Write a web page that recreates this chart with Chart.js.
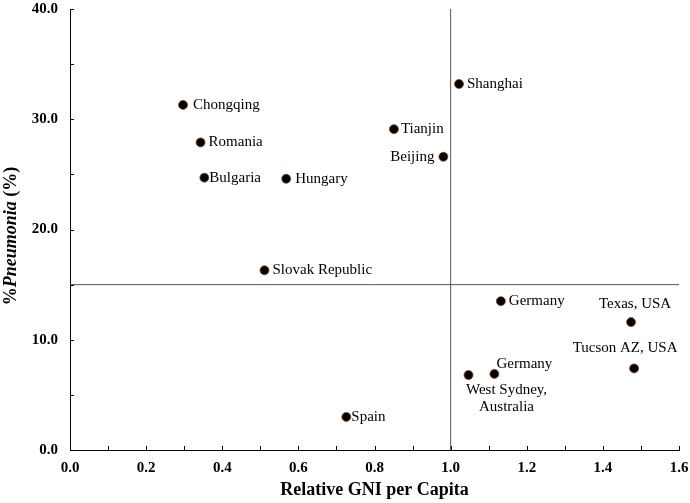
<!DOCTYPE html>
<html>
<head>
<meta charset="utf-8">
<script src="https://cdn.jsdelivr.net/npm/chart.js@4.4.0/dist/chart.umd.min.js"></script>
<style>
  body { margin: 0; background: #fff; }
  #wrap { width: 690px; height: 503px; }
</style>
</head>
<body>
<div id="wrap"><canvas id="myChart" width="690" height="503"></canvas></div>
<script>
// data
var places = ["Chongqing", "Romania", "Bulgaria", "Hungary", "Tianjin", "Beijing", "Shanghai",
    "Slovak Republic", "Germany", "Texas, USA", "Tucson AZ, USA", "Germany", "West Sydney,\nAustralia", "Spain"];
var gniPerCapita = [0.297, 0.343, 0.353, 0.568, 0.851, 0.981, 1.022, 0.511, 1.132, 1.474, 1.482, 1.115, 1.047, 0.726];
var pneumoniaPct = [31.3, 27.9, 24.7, 24.6, 29.1, 26.6, 33.2, 16.3, 13.5, 11.6, 7.4, 6.9, 6.8, 3.0];
var xTicks = [0.0, 0.2, 0.4, 0.6, 0.8, 1.0, 1.2, 1.4, 1.6];
var yTicks = [0.0, 10.0, 20.0, 30.0, 40.0];
var xCut = 1.0;   // vertical reference line
var yCut = 15.0;  // horizontal reference line

// where each label sits relative to its point: [dx, dy, align]
var labelPlace = [
    [10, 0, 'left'], [8, 0, 'left'], [5, 0, 'left'], [9, 0, 'left'], [7, 0, 'left'],
    [-9, 0, 'right'], [8, 0, 'left'], [8, 0, 'left'], [8, 0, 'left'],
    [4, -18, 'center'], [-9, -20, 'center'], [30, -10, 'center'], [38, 15, 'center'], [5, 0, 'left']
];

var serif = "'Liberation Serif', 'Times New Roman', serif";

var points = gniPerCapita.map(function (x, i) { return { x: x, y: pneumoniaPct[i] }; });

var innerTicks = {
    id: 'innerTicks',
    afterDraw: function (chart) {
        var c = chart.ctx, a = chart.chartArea;
        var xs = chart.scales.x, ys = chart.scales.y;
        c.save();
        c.strokeStyle = '#000';
        c.lineWidth = 1;
        xs.ticks.forEach(function (t) {
            var px = Math.round(xs.getPixelForValue(t.value)) + 0.5;
            c.beginPath(); c.moveTo(px, a.bottom); c.lineTo(px, a.bottom - 4); c.stroke();
        });
        ys.ticks.forEach(function (t) {
            var py = Math.round(ys.getPixelForValue(t.value)) + 0.5;
            c.beginPath(); c.moveTo(a.left, py); c.lineTo(a.left + 4, py); c.stroke();
        });
        c.restore();
    }
};

var pointLabels = {
    id: 'pointLabels',
    afterDatasetsDraw: function (chart) {
        var c = chart.ctx;
        var meta = chart.getDatasetMeta(2);
        c.save();
        c.fillStyle = '#000';
        c.font = '15px ' + serif;
        c.textBaseline = 'middle';
        meta.data.forEach(function (el, i) {
            var p = labelPlace[i];
            c.textAlign = p[2];
            places[i].split('\n').forEach(function (line, k) {
                c.fillText(line, el.x + p[0], el.y + p[1] + k * 17);
            });
        });
        c.restore();
    }
};

var yTitle = {
    id: 'yTitle',
    afterDraw: function (chart) {
        var c = chart.ctx;
        var parts = [['%', 'bold'], ['Pneumonia', 'italic bold'], [' (%)', 'bold']];
        c.save();
        c.translate(11, 236);
        c.rotate(-Math.PI / 2);
        c.fillStyle = '#000';
        c.textBaseline = 'middle';
        var total = 0;
        parts.forEach(function (p) { c.font = p[1] + ' 18px ' + serif; total += c.measureText(p[0]).width; });
        var x = -total / 2;
        parts.forEach(function (p) {
            c.font = p[1] + ' 18px ' + serif;
            c.textAlign = 'left';
            c.fillText(p[0], x, 0);
            x += c.measureText(p[0]).width;
        });
        c.restore();
    }
};

var ctx = document.getElementById('myChart').getContext('2d');

var myChart = new Chart(ctx, {
    type: 'scatter',
    data: {
        datasets: [{
            type: 'line',
            data: [{ x: xCut, y: yTicks[0] }, { x: xCut, y: yTicks[yTicks.length - 1] }],
            borderColor: '#555',
            borderWidth: 1,
            pointRadius: 0
        }, {
            type: 'line',
            data: [{ x: xTicks[0], y: yCut }, { x: xTicks[xTicks.length - 1], y: yCut }],
            borderColor: '#555',
            borderWidth: 1,
            pointRadius: 0
        }, {
            data: points,
            backgroundColor: '#000',
            borderColor: '#8a4a1a',
            borderWidth: 0.8,
            pointRadius: 4.5,
            pointHoverRadius: 4.5
        }]
    },
    options: {
        responsive: false,
        animation: false,
        layout: { padding: { left: 28, right: 0, top: 0, bottom: 2 } },
        plugins: {
            legend: { display: false },
            tooltip: { enabled: false }
        },
        scales: {
            x: {
                type: 'linear',
                min: xTicks[0],
                max: xTicks[xTicks.length - 1],
                grid: { display: true, drawOnChartArea: false, drawTicks: false },
                border: { display: true, color: '#000', width: 1 },
                ticks: {
                    stepSize: 0.1,
                    autoSkip: false,
                    maxRotation: 0,
                    padding: 9,
                    color: '#000',
                    font: { family: serif, size: 15, weight: 'bold' },
                    callback: function (v) {
                        var t = Math.round(v * 10);
                        return t % 2 === 0 ? (t / 10).toFixed(1) : '';
                    }
                },
                title: {
                    display: true,
                    text: 'Relative GNI per Capita',
                    color: '#000',
                    font: { family: serif, size: 18, weight: 'bold' },
                    padding: { top: 2, bottom: 0 }
                },
                afterFit: function (s) {
                    s.height = 51;
                    s.paddingRight = 11;
                    s.paddingLeft = 0;
                }
            },
            y: {
                type: 'linear',
                min: yTicks[0],
                max: yTicks[yTicks.length - 1],
                grid: { display: true, drawOnChartArea: false, drawTicks: false },
                border: { display: true, color: '#000', width: 1 },
                ticks: {
                    stepSize: 5,
                    autoSkip: false,
                    padding: 12,
                    color: '#000',
                    font: { family: serif, size: 15, weight: 'bold' },
                    callback: function (v) {
                        return v % 10 === 0 ? v.toFixed(1) : '';
                    }
                },
                afterFit: function (s) {
                    s.width = 42;
                    s.paddingTop = 9;
                    s.paddingBottom = 0;
                }
            }
        }
    },
    plugins: [innerTicks, pointLabels, yTitle]
});
</script>
</body>
</html>
